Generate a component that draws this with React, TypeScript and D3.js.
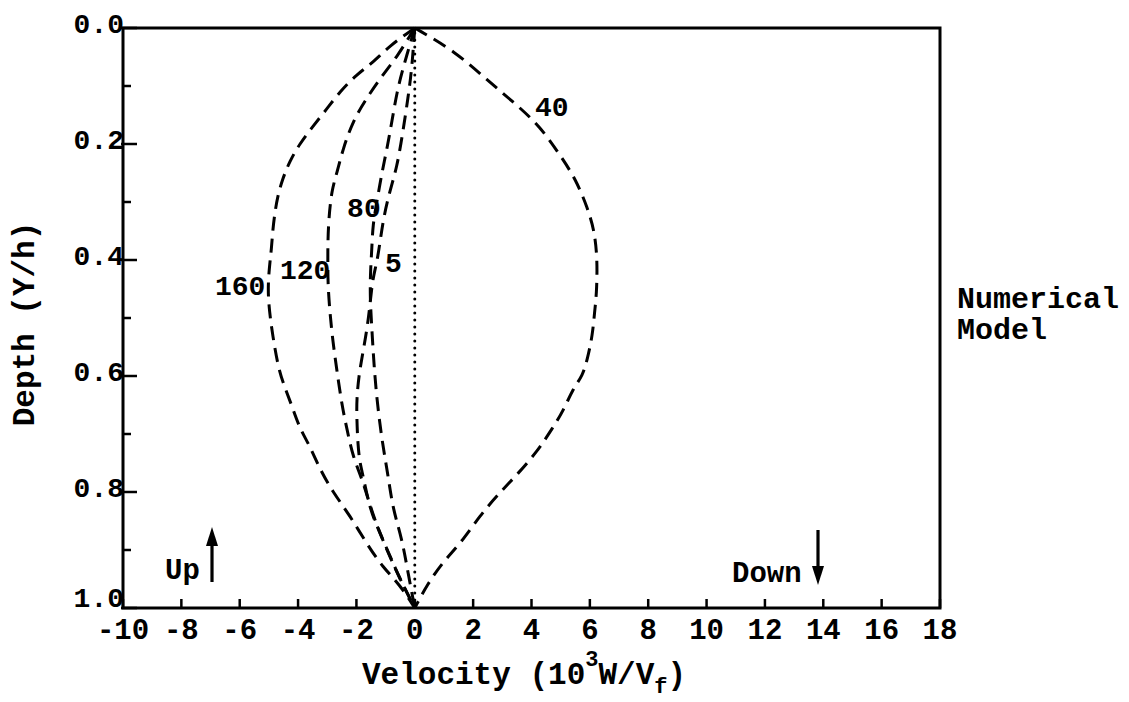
import React from 'react';
import * as d3 from 'd3';

// Axis ticks
const xTickValues = [-10, -8, -6, -4, -2, 0, 2, 4, 6, 8, 10, 12, 14, 16, 18];
const yMajorTicks = [0, 0.2, 0.4, 0.6, 0.8, 1.0];
const yMinorTicks = [0.1, 0.3, 0.5, 0.7, 0.9];
const yTickLabels = ['0.0', '0.2', '0.4', '0.6', '0.8', '1.0'];

// Velocity profiles (10^3 W/Vf) against relative depth Y/h
const depth5 = [0, 0.07, 0.12, 0.18, 0.24, 0.28, 0.33, 0.40, 0.43, 0.48, 0.52, 0.56, 0.60, 0.64, 0.67, 0.72, 0.75, 0.77, 0.83, 0.87, 0.91, 0.95, 1.0];
const vel5 = [0, -0.10, -0.23, -0.41, -0.61, -0.85, -1.09, -1.27, -1.44, -1.54, -1.64, -1.78, -1.92, -1.99, -1.99, -1.95, -1.88, -1.78, -1.54, -1.20, -0.85, -0.51, 0];

const depth40 = [0, 0.04, 0.09, 0.13, 0.17, 0.22, 0.26, 0.31, 0.35, 0.40, 0.46, 0.49, 0.53, 0.57, 0.60, 0.62, 0.66, 0.69, 0.73, 0.77, 0.80, 0.84, 0.89, 0.92, 0.96, 1.0];
const vel40 = [0, 1.38, 2.48, 3.44, 4.30, 4.99, 5.51, 5.92, 6.16, 6.26, 6.23, 6.16, 6.09, 5.92, 5.75, 5.44, 5.09, 4.72, 4.20, 3.51, 2.93, 2.24, 1.55, 0.97, 0.42, 0];

const depth80 = [0, 0.07, 0.11, 0.16, 0.21, 0.25, 0.30, 0.34, 0.38, 0.41, 0.46, 0.52, 0.58, 0.64, 0.71, 0.77, 0.83, 0.88, 0.94, 1.0];
const vel80 = [0, -0.41, -0.61, -0.78, -0.96, -1.13, -1.30, -1.44, -1.47, -1.51, -1.54, -1.47, -1.40, -1.30, -1.13, -0.92, -0.75, -0.44, -0.23, 0];

const depth120 = [0, 0.05, 0.08, 0.12, 0.16, 0.21, 0.25, 0.28, 0.33, 0.37, 0.40, 0.44, 0.49, 0.54, 0.59, 0.65, 0.69, 0.74, 0.78, 0.84, 0.90, 0.95, 1.0];
const vel120 = [0, -0.61, -1.09, -1.64, -2.12, -2.47, -2.67, -2.85, -2.95, -2.98, -2.98, -2.98, -2.91, -2.81, -2.67, -2.50, -2.33, -2.12, -1.78, -1.44, -0.96, -0.51, 0];

const depth160 = [0, 0.03, 0.06, 0.08, 0.11, 0.14, 0.17, 0.20, 0.23, 0.26, 0.29, 0.32, 0.35, 0.38, 0.41, 0.45, 0.49, 0.53, 0.58, 0.61, 0.65, 0.69, 0.72, 0.76, 0.80, 0.84, 0.89, 0.93, 0.96, 1.0];
const vel160 = [0, -0.85, -1.44, -1.99, -2.57, -3.02, -3.50, -3.95, -4.29, -4.53, -4.70, -4.80, -4.87, -4.91, -4.98, -5.04, -4.98, -4.87, -4.70, -4.53, -4.22, -3.95, -3.60, -3.26, -2.81, -2.23, -1.64, -1.09, -0.51, 0];

const curveNames = ['5', '40', '80', '120', '160'];
const curveDepths = [depth5, depth40, depth80, depth120, depth160];
const curveVels = [vel5, vel40, vel80, vel120, vel160];

// Where each profile's label starts (velocity, depth of the text baseline)
const labelAnchors: Record<string, [number, number]> = {
  '5': [-1.02, 0.421],
  '40': [4.12, 0.152],
  '80': [-2.32, 0.326],
  '120': [-4.62, 0.433],
  '160': [-6.85, 0.46],
};

const FONT = "'Liberation Mono', 'Courier New', monospace";

const LEFT = 123;
const RIGHT = 940;
const TOP = 28;
const BOTTOM = 608;

export default function App() {
  const x = d3.scaleLinear().domain([-10, 18]).range([LEFT, RIGHT]);
  const y = d3.scaleLinear().domain([0, 1]).range([TOP, BOTTOM]);

  const line = d3
    .line<[number, number]>()
    .x((p) => x(p[0]))
    .y((p) => y(p[1]))
    .curve(d3.curveBasis);

  const profiles = curveNames.map((name, i) => ({
    name,
    points: curveVels[i].map((v, j) => [v, curveDepths[i][j]] as [number, number]),
  }));

  const x0 = x(0);

  return (
    <svg
      width={1129}
      height={702}
      style={{ position: 'absolute', left: 0, top: 0, background: '#fff' }}
      fontFamily={FONT}
      fontWeight="bold"
    >
      <rect x={0} y={0} width={1129} height={702} fill="#fff" />

      {/* zero-velocity reference */}
      <line
        x1={x0}
        x2={x0}
        y1={y(0) + 5}
        y2={y(1) - 4}
        stroke="#000"
        strokeWidth={3}
        strokeDasharray="0 7"
        strokeLinecap="round"
      />

      {/* velocity profiles */}
      {profiles.map((p) => (
        <path
          key={p.name}
          d={line(p.points) || ''}
          fill="none"
          stroke="#000"
          strokeWidth={3}
          strokeDasharray="14 8"
        />
      ))}

      {/* profile labels */}
      {curveNames.map((name) => (
        <text key={name} x={x(labelAnchors[name][0])} y={y(labelAnchors[name][1])} fontSize={28} fill="#000">
          {name}
        </text>
      ))}

      {/* frame */}
      <rect x={LEFT} y={TOP} width={RIGHT - LEFT} height={BOTTOM - TOP} fill="none" stroke="#000" strokeWidth={3} />

      {/* x ticks */}
      {xTickValues.map((v) => (
        <g key={v}>
          <line x1={x(v)} x2={x(v)} y1={BOTTOM} y2={BOTTOM - 9} stroke="#000" strokeWidth={2.5} />
          <text x={x(v)} y={639} textAnchor="middle" fontSize={29} fill="#000">
            {v}
          </text>
        </g>
      ))}

      {/* y ticks */}
      {yMajorTicks.map((d, i) => (
        <g key={d}>
          <line x1={LEFT - 2} x2={LEFT + 14} y1={y(d)} y2={y(d)} stroke="#000" strokeWidth={2.5} />
          <text x={LEFT + 1} y={y(d) + (i === yMajorTicks.length - 1 ? -1 : 5)} textAnchor="end" fontSize={28} fill="#000">
            {yTickLabels[i]}
          </text>
        </g>
      ))}
      {yMinorTicks.map((d) => (
        <line key={d} x1={LEFT} x2={LEFT + 8} y1={y(d)} y2={y(d)} stroke="#000" strokeWidth={2.5} />
      ))}

      {/* axis titles */}
      <text x={362} y={684} fontSize={31} fill="#000">
        Velocity (10
        <tspan dy={-18} fontSize={22}>3</tspan>
        <tspan dy={18}>W/V</tspan>
        <tspan dy={9} fontSize={22}>f</tspan>
        <tspan dy={-9}>)</tspan>
      </text>
      <text
        transform="translate(34, 324) rotate(-90)"
        textAnchor="middle"
        fontSize={31}
        fill="#000"
      >
        Depth (Y/h)
      </text>

      {/* side note */}
      <text x={957} y={308} fontSize={30} fill="#000">
        Numerical
      </text>
      <text x={957} y={339} fontSize={30} fill="#000">
        Model
      </text>

      {/* direction markers */}
      <text x={165} y={579} fontSize={29} fill="#000">
        Up
      </text>
      <line x1={212} x2={212} y1={582} y2={540} stroke="#000" strokeWidth={3.2} />
      <path d="M212,527 L206,546 L218,546 Z" fill="#000" />

      <text x={732} y={582} fontSize={29} fill="#000">
        Down
      </text>
      <line x1={818} x2={818} y1={530} y2={570} stroke="#000" strokeWidth={3.2} />
      <path d="M818,585 L812,566 L824,566 Z" fill="#000" />
    </svg>
  );
}
